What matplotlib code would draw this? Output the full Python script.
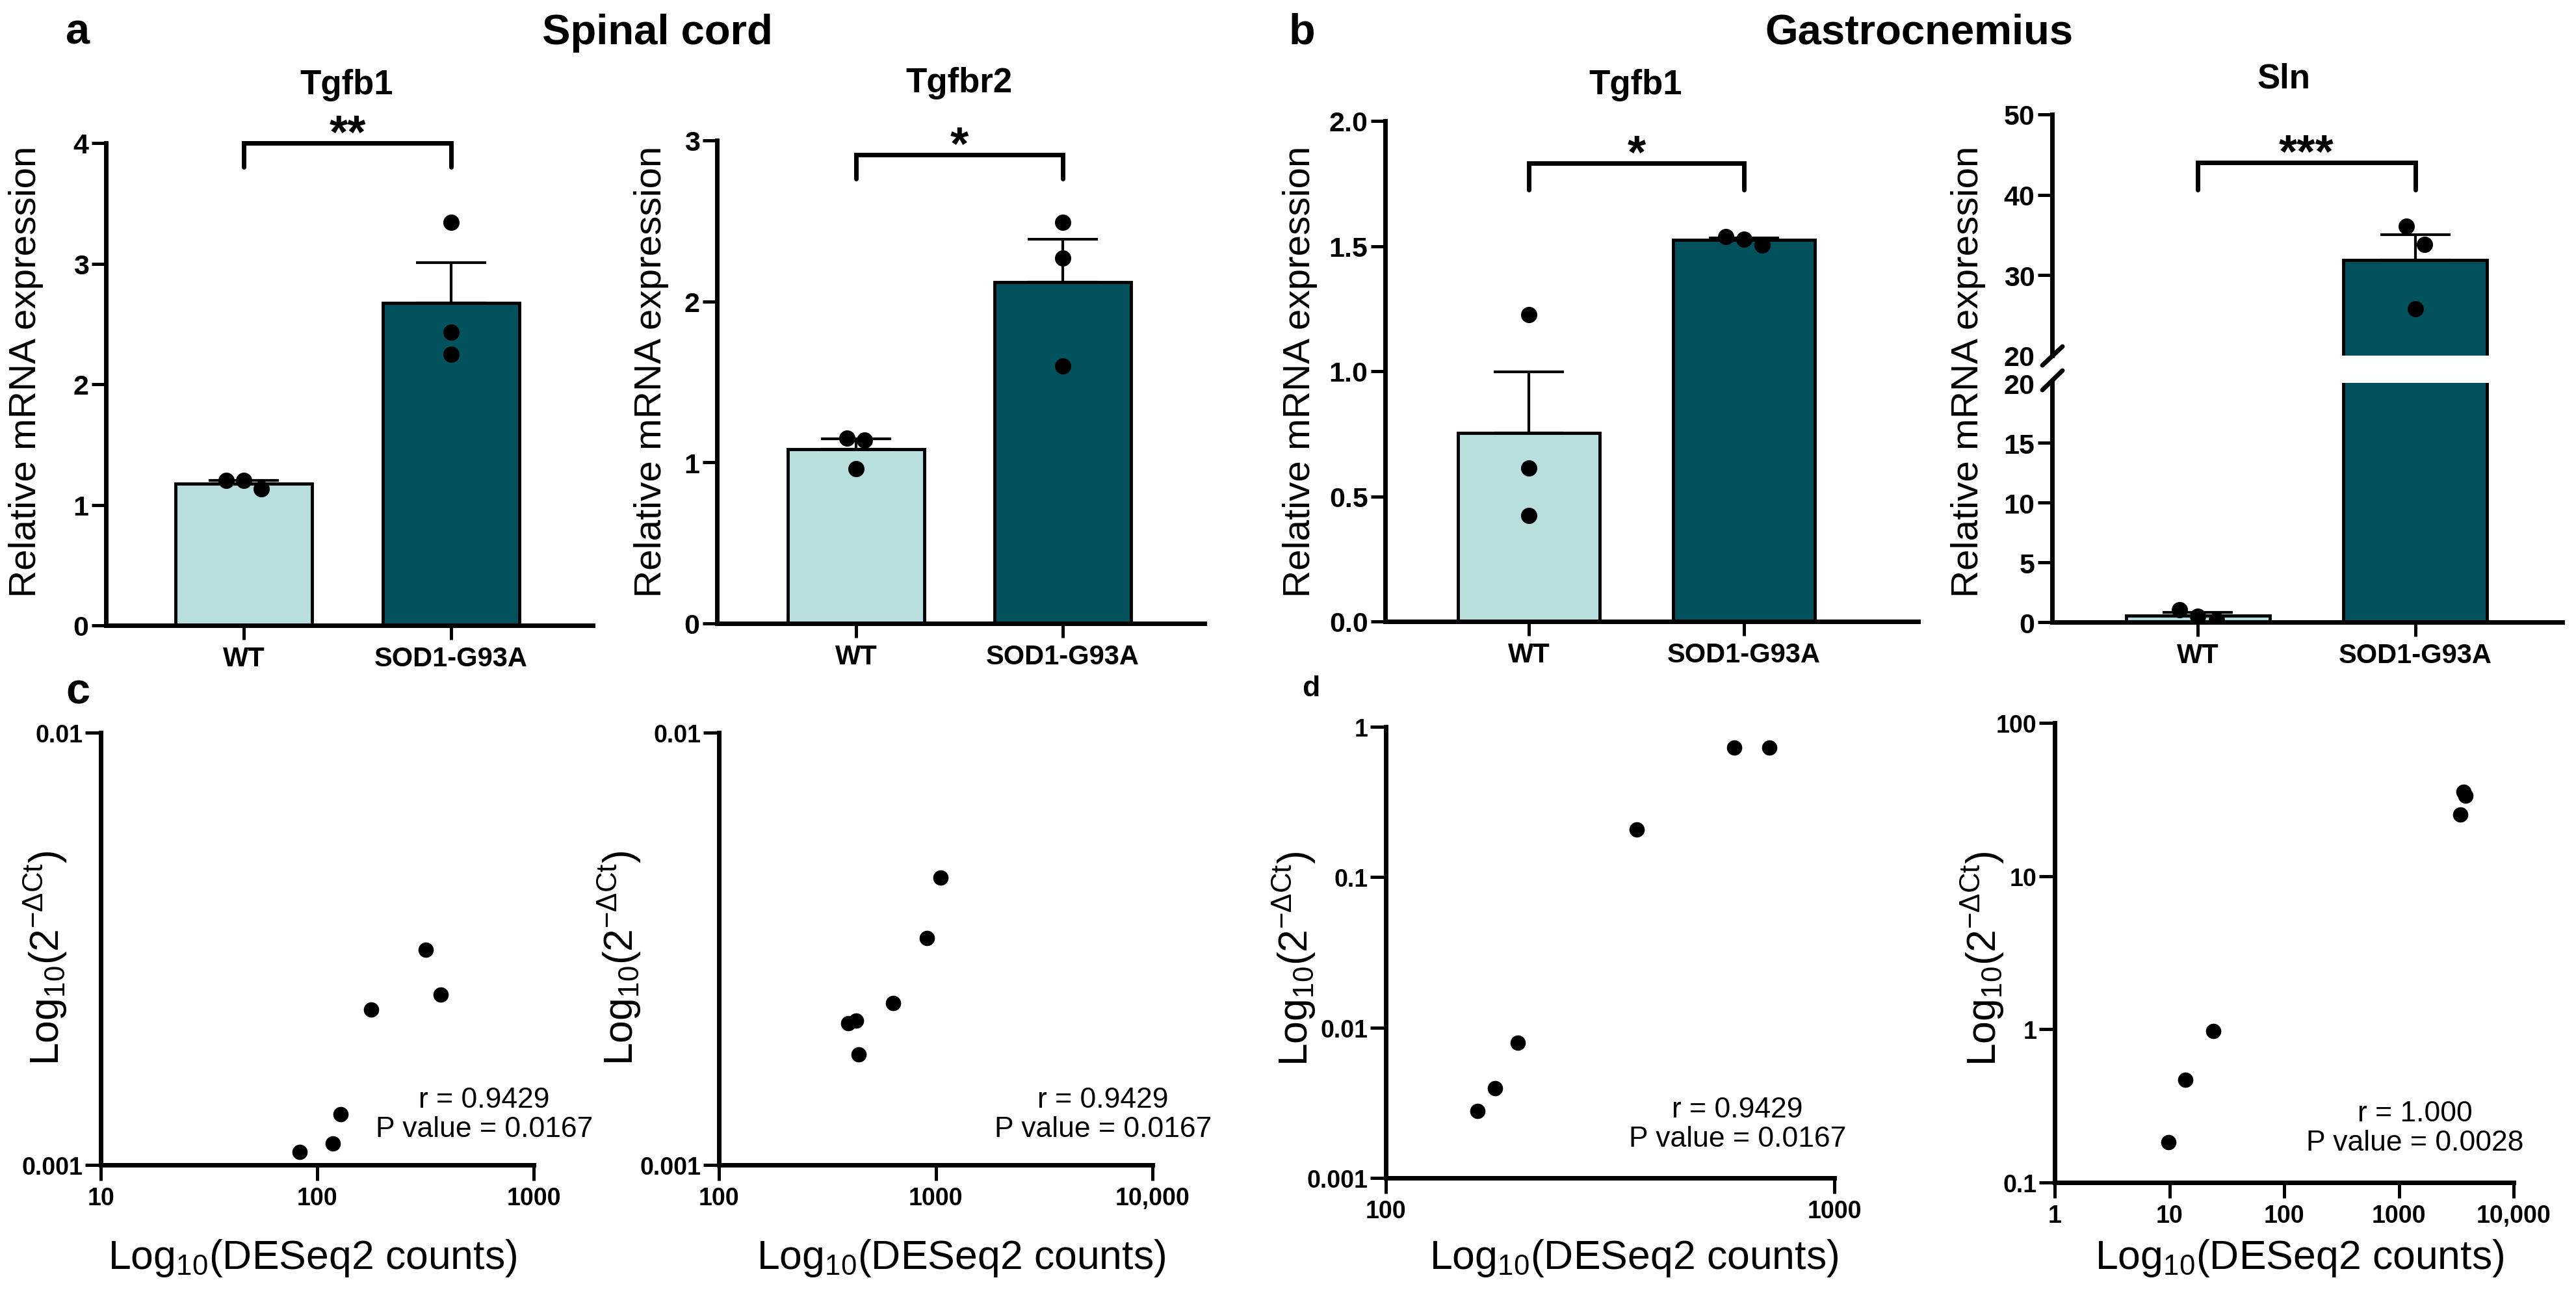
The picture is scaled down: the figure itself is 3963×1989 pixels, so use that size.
import numpy as np
import matplotlib
matplotlib.use("Agg")
import matplotlib.pyplot as plt
from matplotlib.lines import Line2D
from matplotlib.ticker import NullLocator

W, H = 3963, 1990
DPI = 100

plt.rcParams['font.family'] = ['Liberation Sans', 'DejaVu Sans']
plt.rcParams['mathtext.fontset'] = 'custom'
plt.rcParams['mathtext.rm'] = 'Liberation Sans'
plt.rcParams['mathtext.it'] = 'Liberation Sans'
plt.rcParams['mathtext.bf'] = 'Liberation Sans:bold'

# ---------------- data ----------------
groups = ["WT", "SOD1-G93A"]
bar_colors = ["#b8dfde", "#02525e"]

# qPCR relative mRNA expression (3 animals per group)
sc_tgfb1_wt = [1.20, 1.20, 1.13]
sc_tgfb1_sod = [3.34, 2.43, 2.25]
sc_tgfbr2_wt = [1.15, 1.14, 0.96]
sc_tgfbr2_sod = [2.49, 2.27, 1.60]
gc_tgfb1_wt = [1.226, 0.613, 0.423]
gc_tgfb1_sod = [1.538, 1.528, 1.505]
gc_sln_wt = [1.02, 0.47, 0.18]
gc_sln_sod = [36.1, 33.8, 25.8]

bar_titles = ["Tgfb1", "Tgfbr2", "Tgfb1", "Sln"]
bar_stars = ["**", "*", "*", "***"]
bracket_levels = [4.0, 2.91, 1.83, 44.0]
bracket_drops = [0.2, 0.15, 0.105, 3.4]

# correlation: DESeq2 counts vs 2^-dCt
sc_tgfb1_counts = [318, 372, 177, 128.5, 118, 82.8]
sc_tgfb1_dct = [0.00315, 0.00248, 0.00229, 0.00131, 0.00112, 0.00107]
sc_tgfbr2_counts = [1052, 914, 637, 395, 428, 441]
sc_tgfbr2_dct = [0.00462, 0.00335, 0.00237, 0.00213, 0.00216, 0.00180]
gc_tgfb1_counts = [716, 599, 362, 197, 175, 160]
gc_tgfb1_dct = [0.729, 0.729, 0.208, 0.00794, 0.00395, 0.00279]
gc_sln_counts = [3795, 3640, 3430, 24, 13.7, 9.8]
gc_sln_dct = [33.4, 35.5, 25.2, 0.977, 0.47, 0.184]

c1_xticks = [10, 100, 1000]
c1_xlabels = ["10", "100", "1000"]
c2_xticks = [100, 1000, 10000]
c2_xlabels = ["100", "1000", "10,000"]
d1_xticks = [100, 1000]
d1_xlabels = ["100", "1000"]
d2_xticks = [1, 10, 100, 1000, 10000]
d2_xlabels = ["1", "10", "100", "1000", "10,000"]
c_yticks = [0.001, 0.01]
c_ylabels = ["0.001", "0.01"]
d1_yticks = [0.001, 0.01, 0.1, 1]
d1_ylabels = ["0.001", "0.01", "0.1", "1"]
d2_yticks = [0.1, 1, 10, 100]
d2_ylabels = ["0.1", "1", "10", "100"]

stats = ["r = 0.9429\nP value = 0.0167",
         "r = 0.9429\nP value = 0.0167",
         "r = 0.9429\nP value = 0.0167",
         "r = 1.000\nP value = 0.0028"]


# ---------------- helpers ----------------
def px_axes(fig, left, top, right, bottom):
    return fig.add_axes([left / W, 1 - bottom / H, (right - left) / W, (bottom - top) / H])


def ftext(fig, x, y, s, **kw):
    fig.text(x / W, 1 - y / H, s, **kw)


def fline(fig, x0, y0, x1, y1):
    fig.add_artist(Line2D([x0 / W, x1 / W], [1 - y0 / H, 1 - y1 / H], color='black',
                          lw=5, solid_capstyle='round', transform=fig.transFigure))


def style_bar_axes(ax, xlim, ylim, yticks, ylabels, show_x=True):
    for s in ['top', 'right']:
        ax.spines[s].set_visible(False)
    ax.spines['left'].set_linewidth(5)
    ax.spines['bottom'].set_linewidth(5)
    ax.set_xlim(xlim)
    ax.set_ylim(ylim)
    ax.set_yticks(yticks)
    ax.set_yticklabels(ylabels, fontweight='bold', fontsize=31)
    ax.tick_params(axis='y', width=3.6, length=16, pad=3)
    if show_x:
        ax.set_xticks([0, 1])
        ax.set_xticklabels(groups, fontweight='bold', fontsize=30)
        ax.tick_params(axis='x', width=3.6, length=16, pad=6)
    else:
        ax.spines['bottom'].set_visible(False)
        ax.set_xticks([])
    ax.set_facecolor('none')


def spread(ax, values, center, step=0.085, thresh=30):
    # spread overlapping points sideways like GraphPad does
    vals = sorted(values, reverse=True)
    to_px = lambda v: ax.transData.transform((0, v))[1]
    clusters = [[vals[0]]]
    for v in vals[1:]:
        if to_px(clusters[-1][-1]) - to_px(v) < thresh:
            clusters[-1].append(v)
        else:
            clusters.append([v])
    xs, ys = [], []
    for c in clusters:
        offs = (np.arange(len(c)) - (len(c) - 1) / 2) * step
        xs.extend(center + offs)
        ys.extend(c)
    return xs, ys


def draw_bars(ax, wt, sod):
    data = [np.array(wt), np.array(sod)]
    means = [d.mean() for d in data]
    sems = [d.std(ddof=1) / np.sqrt(len(d)) for d in data]
    ax.bar([0, 1], means, width=0.66, color=bar_colors, edgecolor='black',
           linewidth=3.5, zorder=2)
    for i in range(2):
        ax.errorbar(i, means[i], yerr=[[0], [sems[i]]], fmt='none', ecolor='black',
                    elinewidth=3, capsize=39, capthick=3, zorder=3)


def draw_points(ax, vals, center):
    xs, ys = spread(ax, vals, center)
    ax.plot(xs, ys, 'o', color='black', ms=17, zorder=4)


def bracket(ax, top, drop, stars):
    ax.plot([0, 0, 1, 1], [top - drop, top, top, top - drop], color='black', lw=5,
            solid_capstyle='round', solid_joinstyle='miter', clip_on=False, zorder=5)
    ax.annotate(stars, xy=(0.5, top), xytext=(0, -4), textcoords='offset points',
                ha='center', va='baseline', fontsize=52, fontweight='bold',
                annotation_clip=False)


def style_scatter_axes(ax, xticks, xlabels, yticks, ylabels):
    for s in ['top', 'right']:
        ax.spines[s].set_visible(False)
    ax.spines['left'].set_linewidth(5)
    ax.spines['bottom'].set_linewidth(5)
    ax.set_xscale('log')
    ax.set_yscale('log')
    ax.set_xlim(xticks[0], xticks[-1])
    ax.set_ylim(yticks[0], yticks[-1])
    ax.set_xticks(xticks)
    ax.set_xticklabels(xlabels, fontweight='bold', fontsize=27)
    ax.set_yticks(yticks)
    ax.set_yticklabels(ylabels, fontweight='bold', fontsize=27)
    ax.xaxis.set_minor_locator(NullLocator())
    ax.yaxis.set_minor_locator(NullLocator())
    ax.tick_params(axis='both', width=3.6, length=17)
    ax.tick_params(axis='x', pad=7)
    ax.tick_params(axis='y', pad=3)
    ax.set_facecolor('none')


# ---------------- figure ----------------
fig = plt.figure(figsize=(W / DPI, H / DPI), dpi=DPI)

# panel a: spinal cord bars
ax_a1 = px_axes(fig, 163, 221, 912, 963)
style_bar_axes(ax_a1, (-0.665, 1.683), (0, 4), [0, 1, 2, 3, 4], ["0", "1", "2", "3", "4"])
draw_bars(ax_a1, sc_tgfb1_wt, sc_tgfb1_sod)
draw_points(ax_a1, sc_tgfb1_wt, 0)
draw_points(ax_a1, sc_tgfb1_sod, 1)
bracket(ax_a1, bracket_levels[0], bracket_drops[0], bar_stars[0])

ax_a2 = px_axes(fig, 1103, 217, 1853, 960)
style_bar_axes(ax_a2, (-0.673, 1.686), (0, 3), [0, 1, 2, 3], ["0", "1", "2", "3"])
draw_bars(ax_a2, sc_tgfbr2_wt, sc_tgfbr2_sod)
draw_points(ax_a2, sc_tgfbr2_wt, 0)
draw_points(ax_a2, sc_tgfbr2_sod, 1)
bracket(ax_a2, bracket_levels[1], bracket_drops[1], bar_stars[1])

# panel b: gastrocnemius bars
ax_b1 = px_axes(fig, 2131, 187, 2951, 957)
style_bar_axes(ax_b1, (-0.668, 1.81), (0, 2.0), [0, 0.5, 1.0, 1.5, 2.0],
               ["0.0", "0.5", "1.0", "1.5", "2.0"])
draw_bars(ax_b1, gc_tgfb1_wt, gc_tgfb1_sod)
draw_points(ax_b1, gc_tgfb1_wt, 0)
draw_points(ax_b1, gc_tgfb1_sod, 1)
bracket(ax_b1, bracket_levels[2], bracket_drops[2], bar_stars[2])

# Sln with broken y axis
ax_b2lo = px_axes(fig, 3157, 590, 3942, 958)
ax_b2hi = px_axes(fig, 3157, 177, 3942, 548)
style_bar_axes(ax_b2lo, (-0.669, 1.675), (0, 20), [0, 5, 10, 15, 20],
               ["0", "5", "10", "15", "20"])
style_bar_axes(ax_b2hi, (-0.669, 1.675), (20, 50), [20, 30, 40, 50],
               ["20", "30", "40", "50"], show_x=False)
ax_b2lo.yaxis.get_major_ticks()[-1].tick1line.set_visible(False)
ax_b2hi.yaxis.get_major_ticks()[0].tick1line.set_visible(False)
for ax in (ax_b2lo, ax_b2hi):
    draw_bars(ax, gc_sln_wt, gc_sln_sod)
draw_points(ax_b2lo, gc_sln_wt, 0)
draw_points(ax_b2hi, gc_sln_sod, 1)
bracket(ax_b2hi, bracket_levels[3], bracket_drops[3], bar_stars[3])
fline(fig, 3142, 563, 3173, 534)
fline(fig, 3142, 601, 3173, 571)

# top row text
ftext(fig, 101, 67, "a", fontsize=48, fontweight='bold', ha='left', va='baseline')
ftext(fig, 1983, 67, "b", fontsize=48, fontweight='bold', ha='left', va='baseline')
ftext(fig, 1011, 68, "Spinal cord", fontsize=47, fontweight='bold', ha='center', va='baseline')
ftext(fig, 2952, 68, "Gastrocnemius", fontsize=47, fontweight='bold', ha='center', va='baseline')
for (x, y), t in zip([(533, 145), (1475, 142), (2516, 145), (3513, 135)], bar_titles):
    ftext(fig, x, y, t, fontsize=38, fontweight='bold', ha='center', va='baseline')
for x in [40, 1002, 2000, 3028]:
    ftext(fig, x, 572, "Relative mRNA expression", fontsize=42, rotation=90,
          ha='center', va='center')

# panels c, d: correlations
scatter_specs = [
    ((155, 1128, 821, 1793), sc_tgfb1_counts, sc_tgfb1_dct, c1_xticks, c1_xlabels, c_yticks, c_ylabels),
    ((1106, 1128, 1773, 1793), sc_tgfbr2_counts, sc_tgfbr2_dct, c2_xticks, c2_xlabels, c_yticks, c_ylabels),
    ((2132, 1119, 2822, 1813), gc_tgfb1_counts, gc_tgfb1_dct, d1_xticks, d1_xlabels, d1_yticks, d1_ylabels),
    ((3161, 1113, 3867, 1820), gc_sln_counts, gc_sln_dct, d2_xticks, d2_xlabels, d2_yticks, d2_ylabels),
]
for rect, xv, yv, xt, xl, yt, yl in scatter_specs:
    ax = px_axes(fig, *rect)
    style_scatter_axes(ax, xt, xl, yt, yl)
    ax.plot(xv, yv, 'o', color='black', ms=16, zorder=4)

ftext(fig, 101, 1083, "c", fontsize=48, fontweight='bold', ha='left', va='baseline')
ftext(fig, 2003, 1071, "d", fontsize=32, fontweight='bold', ha='left', va='baseline')

for (x, y), s in zip([(745, 1715), (1697, 1715), (2673, 1730), (3715, 1736)], stats):
    ftext(fig, x, y, s, fontsize=32, ha='center', va='center', linespacing=1.1,
          multialignment='center')
for x, y in [(70, 1474), (953, 1474), (1991, 1475), (3050, 1475)]:
    ftext(fig, x, y, r"Log$_{10}$(2$^{-\Delta \mathrm{Ct}}$)", fontsize=45, rotation=90,
          ha='center', va='center')
for x in [481, 1479, 2514, 3538]:
    ftext(fig, x, 1952, r"Log$_{10}$(DESeq2 counts)", fontsize=45, ha='center', va='baseline')

fig.savefig("out.png", dpi=DPI, facecolor='white')
